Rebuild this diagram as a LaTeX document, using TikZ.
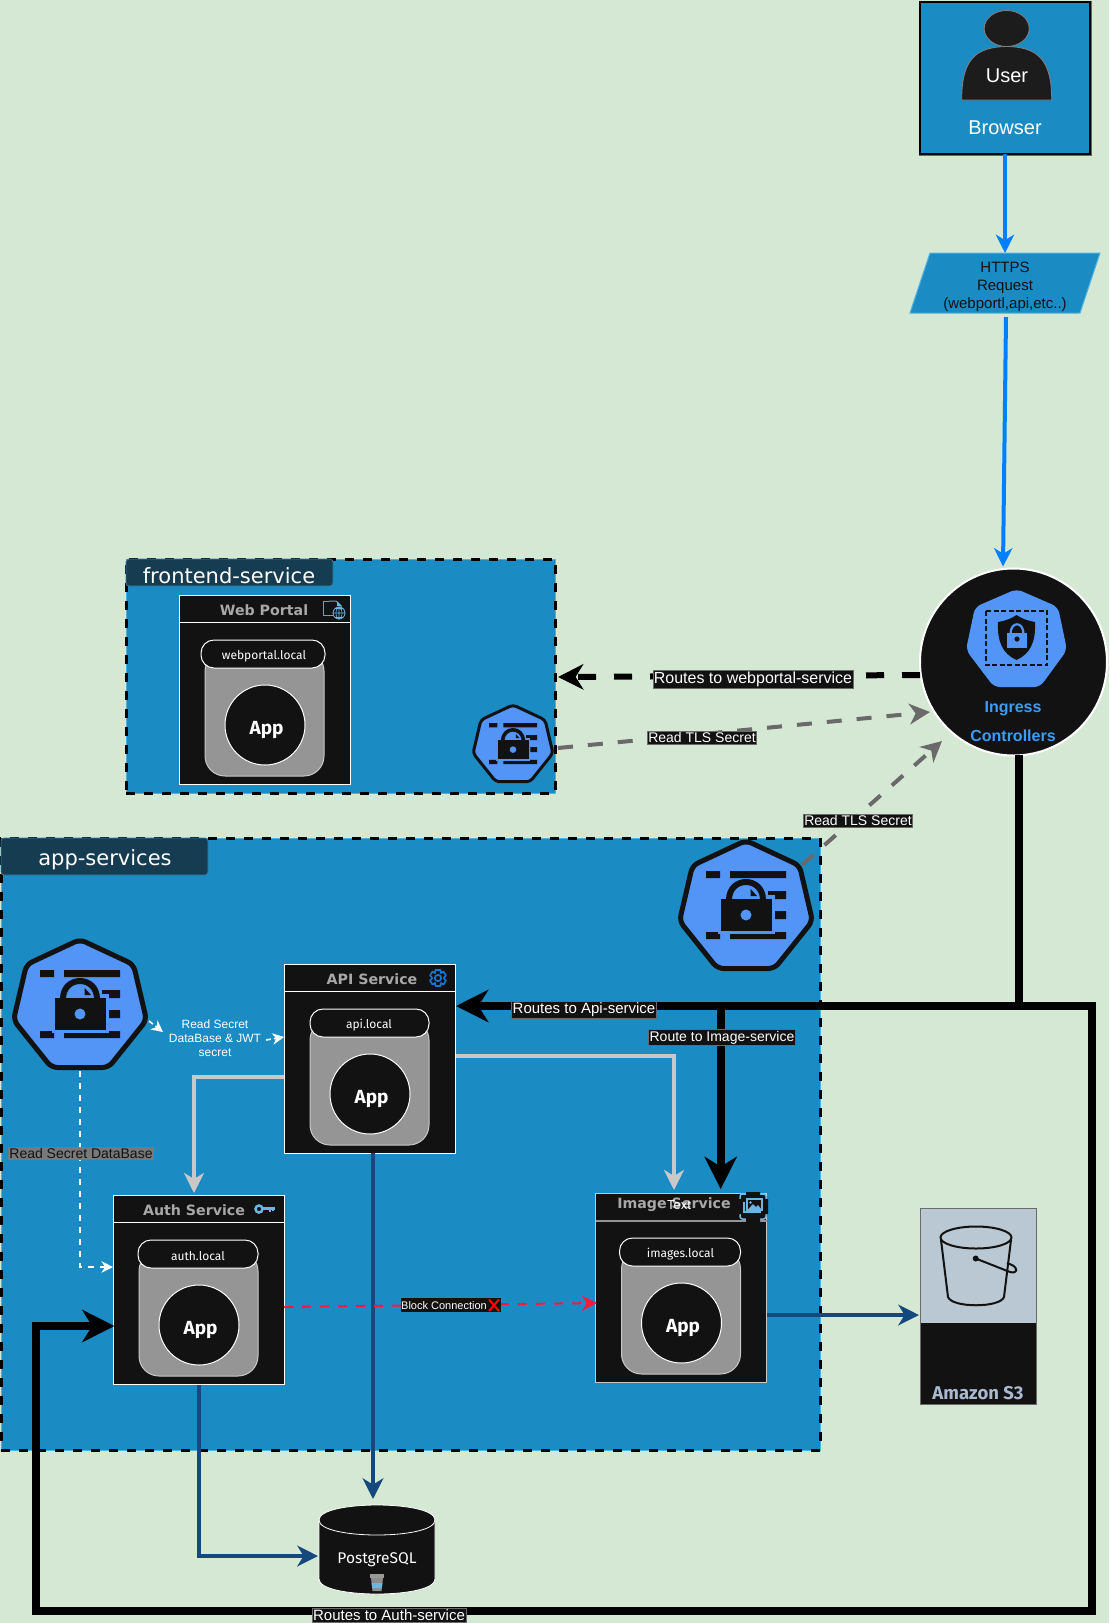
\documentclass[tikz,border=0pt]{standalone}
\usepackage{fontspec}
\setmainfont{Liberation Sans}
\newfontfamily\verd{DejaVu Sans}
\newfontfamily\hand{Fira Sans}
\usetikzlibrary{arrows.meta,calc}
\definecolor{bggreen}{HTML}{D5E8D4}
\definecolor{panel}{HTML}{1A8BC3}
\definecolor{rim}{HTML}{4FB3E0}
\definecolor{tabc}{HTML}{153C50}
\definecolor{ink}{HTML}{121212}
\definecolor{podgray}{HTML}{959595}
\definecolor{titlegray}{HTML}{A8A8A8}
\definecolor{kblue}{HTML}{5295F7}
\definecolor{httpblue}{HTML}{007FFF}
\definecolor{navy}{HTML}{15497E}
\definecolor{lgray}{HTML}{C8C8C8}
\definecolor{dgray}{HTML}{6A6A6A}
\definecolor{redl}{HTML}{FF1A3C}
\definecolor{ingtext}{HTML}{3D9CF5}
\definecolor{s3top}{HTML}{BAC8D3}
\definecolor{s3text}{HTML}{AAB8D0}
\definecolor{iconb}{HTML}{6DB6E0}
\definecolor{gearb}{HTML}{1676D2}
\definecolor{userb}{HTML}{1C1C1C}
\tikzset{
  container/.style={rectangle,minimum width=#1,inner sep=0pt,outer sep=0pt,draw=black,line width=3pt,
     dash pattern=on 9pt off 9pt,preaction={fill=panel,draw=rim,line width=1pt,solid}},
  tabbox/.style={rectangle,rounded corners=3pt,fill=tabc,draw=rim!60!tabc,line width=.7pt,inner sep=0pt,outer sep=0pt},
  tabtext/.style={text=white,font=\verd\fontsize{21}{25}\selectfont,inner sep=0pt},
  svc/.style={rectangle,fill=ink,draw=white,line width=1pt,minimum width=171pt,minimum height=189pt,inner sep=0pt,outer sep=0pt},
  svctitle/.style={text=titlegray,font=\verd\bfseries\fontsize{14.2}{17}\selectfont,inner sep=0pt},
  hosttext/.style={text=white,font=\hand\fontsize{12}{15}\selectfont,inner sep=0pt},
  apptext/.style={text=white,font=\hand\bfseries\fontsize{19}{22}\selectfont,inner sep=0pt},
  lbl/.style={fill=ink,text=white,draw=dgray,line width=.5pt,font=\fontsize{#1}{17}\selectfont,inner xsep=1pt,inner ysep=1.5pt,outer sep=0pt},
  hd/.style={-{Stealth[length=#1*1.15,width=#1*1.15,inset=#1*.35]}},
  blackdash/.style={draw=black,line width=6pt,dash pattern=on 18pt off 18pt,hd=22pt},
  graydash/.style={draw=dgray,line width=4pt,dash pattern=on 15pt off 15pt,hd=18pt},
  whitedash/.style={draw=white,line width=1.6pt,dash pattern=on 6pt off 6pt,hd=10pt},
  route/.style={draw=black,line width=8pt,hd=28pt},
  navyl/.style={draw=navy,line width=4.7pt,hd=18pt},
  grayl/.style={draw=lgray,line width=3.5pt,hd=17.5pt},
  httpl/.style={draw=httpblue,line width=4pt,hd=16pt},
}
\newcommand{\podin}[5]{% left, top, host, pill left, pill right
  \draw[fill=podgray,draw=lgray,line width=1pt,rounded corners=20pt] (#1+26,#2+56) rectangle (#1+145,#2+181);
  \draw[fill=ink,draw=white,line width=1pt,rounded corners=13pt] (#1+#4,#2+45) rectangle (#1+#5,#2+73);
  \node[hosttext] at (#1+85,#2+61) {#3};
  \draw[fill=ink,draw=white,line width=1pt] (#1+86,#2+130) circle[radius=40];
  \node[apptext] at (#1+87.5,#2+135) {App};
}
\newcommand{\secreticon}[3]{% cx, top, scale
  \begin{scope}[shift={(#1,#2)},scale=#3]
  \draw[fill=kblue,draw=ink,line width=#3*5pt,line join=round,rounded corners=#3*6pt]
     (0,1.5)--(53.5,26.5)--(66.5,82)--(28.5,129.5)--(-28.5,129.5)--(-66.5,82)--(-53.5,26.5)--cycle;
  \fill[ink] (-40,32) rectangle (-26,39) (-16,32) rectangle (40,39)
             (22,52) rectangle (40,60) (29,72) rectangle (40,80)
             (-40,93) rectangle (-26,100) (-16,93) rectangle (40,100);
  \fill[kblue] (-28,56) rectangle (29,95);
  \draw[ink,line width=#3*6pt] (-17,61) .. controls (-17,37) and (17,37) .. (17,61);
  \fill[ink] (4.7,50) -- (11,57) -- (4.7,57) -- cycle;
  \fill[ink] (-25,60) rectangle (26,92);
  \fill[kblue] (0,76) circle[radius=5.5];
  \end{scope}
}
\begin{document}
\begin{tikzpicture}[x=1pt,y=-1pt]
\useasboundingbox (0,0) rectangle (1109,1623);
\fill[bggreen] (0,0) rectangle (1109,1623);

% frontend container
\node[container=429pt,minimum height=234pt] (frontend) at (340.5,676) {};
\node[tabbox,minimum width=207pt,minimum height=27pt] (fronttab) at (229.5,572.5) {};
\node[tabtext] (fronttabt) at (229,575.5) {frontend-service};
\node[svc] (web) at (265,689.5) {};
\draw[white,line width=1pt] (179.5,622) -- (350.5,622);
\node[svctitle] (webt) at (264,610) {Web Portal};
\podin{179}{595}{webportal.local}{22}{146}
% file globe icon
\draw[iconb!70!panel,line width=1pt] (329,601) -- (323,601) -- (323,615) -- (334,615);
\draw[iconb!70!panel,line width=1pt] (329,601) -- (336,601) -- (341,606) -- (341,610);
\fill[iconb] (337,601) -- (342,606) -- (337,606) -- cycle;
\draw[iconb,line width=.8pt] (339,613) circle[radius=6] (333,613) -- (345,613) (339,607) -- (339,619) (335,608.5) -- (343,608.5) (335,617.5) -- (343,617.5);
\draw[iconb,line width=.6pt] (339,613) ellipse[x radius=3,y radius=6];

% app container
\node[container=819pt,minimum height=612pt] (apps) at (410.5,1144) {};
\node[tabbox,minimum width=207pt,minimum height=37pt] (apptab) at (104.5,856.5) {};
\node[tabtext] (apptabt) at (105,860) {app-services};

% connectors under boxes
\draw[grayl] (284,1077) -- (194,1077) -- (194,1193);
\draw[grayl] (455,1056) -- (674,1056) -- (674,1190);

% browser
\node[rectangle,fill=panel,draw=black,line width=1.8pt,minimum width=170pt,minimum height=152pt,inner sep=0pt,outer sep=0pt,preaction={draw=dgray,line width=3pt}] (browser) at (1005,78) {};
\draw[fill=userb,draw=gray,line width=.8pt] (1006.7,28.5) ellipse[x radius=22.5,y radius=18];
\draw[fill=userb,draw=gray,line width=.8pt] (961.7,100) .. controls (961.7,60) and (975,47) .. (1006.7,46.5) .. controls (1038,47) and (1051.7,60) .. (1051.7,100) -- cycle;
\node[text=white,font=\fontsize{20}{24}\selectfont,inner sep=0pt] (usert) at (1007,76) {User};
\node[text=white,font=\fontsize{20}{24}\selectfont,inner sep=0pt] (browsert) at (1005,128) {Browser};

% https
\path[fill=panel,draw=rim,line width=1pt] (930,253) -- (1100,253) -- (1080,313) -- (910,313) -- cycle;
\node[inner sep=0pt,align=center,text=ink,font=\fontsize{15}{18}\selectfont] (https) at (1005,287) {HTTPS\\Request\\(webportl,api,etc..)};
\coordinate (httpsTop) at (1005,253);
\coordinate (httpsBot) at (1006,317);

% ingress
\node[circle,fill=ink,draw=white,line width=2pt,minimum size=187pt,inner sep=0pt,outer sep=0pt] (ing) at (1013.5,662) {};
\fill[kblue,rounded corners=6pt] (1016.7,589) -- (1058,607) -- (1067,650) -- (1040,687) -- (994,687) -- (966,650) -- (975,607) -- cycle;
\draw[ink,line width=2pt,dash pattern=on 5pt off 2.5pt] (986,611) rectangle (1047,665);
\fill[ink] (1016.5,615) .. controls (1024,620) and (1030,621) .. (1035,622) .. controls (1036,642) and (1030,654) .. (1016.5,660) .. controls (1003,654) and (997,642) .. (998,622) .. controls (1003,621) and (1009,620) .. (1016.5,615) -- cycle;
\fill[kblue] (1007,633) rectangle (1027,648);
\draw[kblue,line width=2.2pt] (1010.5,634) .. controls (1010.5,621) and (1023.5,621) .. (1023.5,634);
\fill[ink] (1017,639) circle[radius=2.6];
\node[text=ingtext,font=\bfseries\fontsize{16}{19}\selectfont,inner sep=0pt] (ingt1) at (1013,708.5) {Ingress};
\node[text=ingtext,font=\bfseries\fontsize{16}{19}\selectfont,inner sep=0pt] (ingt2) at (1013,736) {Controllers};

% service boxes
\node[svc] (api) at (369.5,1058.5) {};
\draw[white,line width=1pt] (284,991) -- (455,991);
\node[svctitle] (apit) at (372,979) {API Service};
\podin{284}{964}{api.local}{26}{145}
% gear
\draw[gearb,line width=1.7pt,line join=round] (438,978) circle[radius=3.2];
\draw[gearb,line width=1.7pt,line join=round]
  (435.5,970) -- (440.5,970) -- (441,973) -- (443.5,971.5) -- (446,975.5) -- (444,977.5) -- (444,978.5) -- (446,980.5) -- (443.5,984.5) -- (441,983) -- (440.5,986) -- (435.5,986) -- (435,983) -- (432.5,984.5) -- (430,980.5) -- (432,978.5) -- (432,977.5) -- (430,975.5) -- (432.5,971.5) -- (435,973) -- cycle;

\node[svc] (auth) at (198.5,1289.5) {};
\draw[white,line width=1pt] (113,1222.5) -- (284,1222.5);
\node[svctitle] (autht) at (194,1210) {Auth Service};
\podin{113}{1195}{auth.local}{25}{145}
% key
\draw[iconb,line width=2.5pt] (259,1209) circle[radius=3.5];
\draw[iconb,line width=2.5pt] (262,1208.5) -- (275,1208.5);
\draw[iconb,line width=1.5pt] (270,1209) -- (270,1212) (273,1209) -- (273,1211);

\node[svc,draw=lgray] (image) at (681,1287.5) {};
\draw[podgray,line width=1.2pt] (595.5,1221) -- (766.5,1221);
\node[svctitle] (imaget) at (674,1205) {Image Service};
\podin{595.5}{1193}{images.local}{24}{145}
\node[text=white,font=\fontsize{13}{15}\selectfont,inner sep=0pt] (texto) at (679,1205) {Text};
% image icon
\draw[iconb,line width=1.5pt,rounded corners=2.5pt] (740,1194) rectangle (766,1219);
\fill[ink] (746,1192) rectangle (760,1222) (738,1199) rectangle (768,1214);
\draw[iconb,line width=1.5pt] (744,1202) -- (744,1212) -- (761,1212);
\draw[iconb,line width=1.2pt,fill=ink] (747,1199) rectangle (762,1210);
\fill[iconb] (748,1209.5) -- (753,1204) -- (756,1207) -- (758,1205) -- (761.5,1209.5) -- cycle;
\fill[iconb] (750.5,1202.5) circle[radius=1.3];

% S3
\node[rectangle,fill=s3top,draw=dgray,line width=1pt,minimum width=116pt,minimum height=196pt,inner sep=0pt,outer sep=0pt] (s3) at (978,1306) {};
\fill[ink] (920,1323) rectangle (1036,1404);
\draw[dgray,line width=1pt] (920,1208) rectangle (1036,1404);
\draw[ink,line width=2pt] (976,1237.5) ellipse[x radius=35.5,y radius=11];
\draw[ink,line width=2pt] (941,1240) -- (948,1297) .. controls (952,1308) and (1000,1308) .. (1004,1297) -- (1011,1240);
\fill[ink] (975.7,1258.5) circle[radius=3];
\draw[ink,line width=2pt] (975.7,1258.5) -- (1010,1272) .. controls (1018,1274) and (1018,1268) .. (1012,1265) -- (1007,1263);
\node[text=s3text,font=\hand\bfseries\fontsize{18.5}{22}\selectfont,inner sep=0pt] (s3t) at (978,1393) {Amazon S3};

% postgres
\path[fill=ink,draw=white,line width=.8pt] (319,1520) -- (319,1579) .. controls (319,1599) and (435,1599) .. (435,1579) -- (435,1520) .. controls (435,1500) and (319,1500) .. (319,1520) -- cycle;
\draw[white,line width=.8pt] (319,1520) .. controls (319,1540) and (435,1540) .. (435,1520);
\node[text=white,font=\hand\fontsize{15.5}{18}\selectfont,inner sep=0pt] (pg) at (377,1560) {PostgreSQL};
\coordinate (pgTop) at (373,1499);
\coordinate (pgLeft) at (318,1556);
% trash
\fill[gray!80] (370,1574) rectangle (384,1578);
\fill[gray!90!white] (371,1578) -- (383,1578) -- (381.5,1591) -- (372.5,1591) -- cycle;
\fill[iconb] (371.6,1583) -- (382.4,1583) -- (381.7,1588) -- (372.3,1588) -- cycle;

% secret icons
\secreticon{746}{839}{1}
\coordinate (secBigEdge) at (802,865);
\secreticon{80}{938}{1}
\coordinate (secLeftR) at (149,1021);
\coordinate (secLeftB) at (80,1071);
\secreticon{513}{704}{.6}
\coordinate (secSmallR) at (558,748);

% connectors
\draw[httpl] (browser.south) -- (httpsTop);
\draw[httpl] (httpsBot) -- ($(ing.north)+(-10.5,-2)$);
\draw[blackdash] ($(ing.west)+(0,13)$) -- ($(frontend.east)+(3,1)$);
\draw[graydash] (secSmallR) -- (930,712);
\draw[graydash] (secBigEdge) -- (942,741);
\draw[route] ($(ing.south)+(5.5,-1)$) -- (1019,1006) -- (456,1006);
\draw[route,-] (1019,1006) -- (1092,1006) -- (1092,1611) -- (36,1611) -- (36,1326) -- (60,1326);
\draw[route] (36,1326) -- ($(auth.west |- 36,1326)+(1.5,0)$);
\draw[route] (720.7,1006) -- (720.7,1189);
\draw[navyl] (373,1153) -- (pgTop);
\draw[navyl] (199,1385) -- (199,1556) -- (pgLeft);
\draw[navyl] (767,1315) -- (919,1315);
\draw[redl,line width=2pt,dash pattern=on 9pt off 9pt,hd=13pt] (284,1307) -- (597,1303);
\draw[whitedash] (secLeftB) -- (80,1267) -- (113,1267);
\node[inner sep=0pt,align=center,text=white,fill=panel,font=\fontsize{12}{14.3}\selectfont] (rsd) at (215,1038) {Read Secret\\DataBase \& JWT\\secret};
\draw[whitedash,dash pattern=on 5pt off 3pt] (secLeftR) -- (163,1032);
\draw[whitedash,dash pattern=on 5pt off 3pt] (266,1040) -- (284,1037);

% labels
\node[lbl=16] (l1) at (753,679.5) {Routes to webportal-service};
\node[lbl=14] (l2) at (702,737.5) {Read TLS Secret};
\node[lbl=14] (l3) at (858,820.5) {Read TLS Secret};
\node[lbl=15] (l4) at (584,1010) {Routes to Api-service};
\node[lbl=14] (l5) at (722,1037.5) {Route to Image-service};
\node[lbl=14,fill=dgray!90!white,text=ink,draw=none] (l6) at (81,1153.5) {Read Secret DataBase};
\node[lbl=15] (l7) at (389,1615.5) {Routes to Auth-service};
\node[fill=ink,inner sep=0pt,minimum width=100pt,minimum height=14pt] (blk) at (451,1305) {};
\node[text=white,font=\fontsize{11}{13}\selectfont,inner sep=0pt] (blkt) at (444,1305.5) {Block Connection};
\draw[red,line width=2pt] (489,1299.5) -- (499,1311) (499,1299.5) -- (489,1311);
\end{tikzpicture}
\end{document}
